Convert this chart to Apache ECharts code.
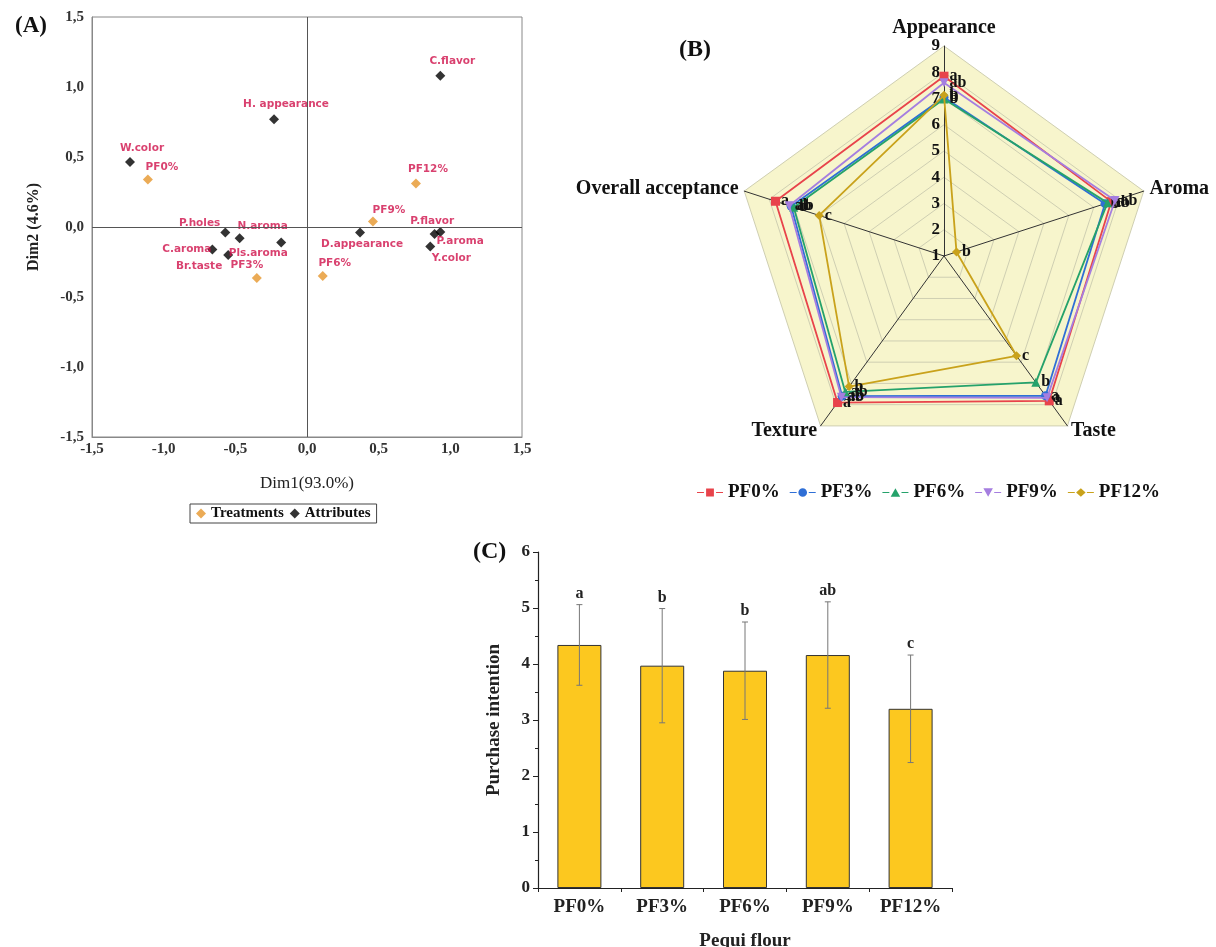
<!DOCTYPE html>
<html><head><meta charset="utf-8">
<script src="https://cdn.jsdelivr.net/npm/echarts@6/dist/echarts.min.js"></script>
<style>html,body{margin:0;padding:0;background:#fff}#c{width:1216px;height:947px}</style>
</head><body><div id="c"></div>
<script>
// ---------- Panel A data ----------
const treatNames = ['PF0%', 'PF3%', 'PF6%', 'PF9%', 'PF12%'];
const treatDim1 = [-1.11, -0.35, 0.11, 0.46, 0.76];
const treatDim2 = [0.34, -0.365, -0.35, 0.04, 0.31];
const attrNames = ['C.flavor', 'H. appearance', 'W.color', 'D.appearance', 'P.flavor', 'P.aroma', 'Y.color', 'P.holes', 'N.aroma', 'Pls.aroma', 'C.aroma', 'Br.taste'];
const attrDim1 = [0.93, -0.23, -1.235, 0.37, 0.93, 0.89, 0.86, -0.57, -0.47, -0.18, -0.66, -0.55];
const attrDim2 = [1.08, 0.77, 0.465, -0.04, -0.035, -0.05, -0.14, -0.04, -0.08, -0.11, -0.16, -0.2];

// ---------- Panel B data ----------
const radarAxes = ['Appearance', 'Overall acceptance', 'Texture', 'Taste', 'Aroma'];
const radarNames = ['PF0%', 'PF3%', 'PF6%', 'PF9%', 'PF12%'];
const radarPF0 = [7.85, 7.75, 7.9, 7.82, 7.7];
const radarPF3 = [7.05, 7.12, 7.6, 7.58, 7.45];
const radarPF6 = [6.98, 7.02, 7.4, 6.95, 7.55];
const radarPF9 = [7.6, 7.2, 7.65, 7.68, 7.85];
const radarPF12 = [7.12, 6.0, 7.15, 5.7, 1.5];
const radarLetPF0 = ['a', 'a', 'a', 'a', 'a'];
const radarLetPF3 = ['b', 'ab', 'ab', 'a', 'b'];
const radarLetPF6 = ['b', 'b', 'ab', 'b', 'ab'];
const radarLetPF9 = ['ab', 'ab', 'ab', 'a', 'ab'];
const radarLetPF12 = ['b', 'c', 'b', 'c', 'b'];

// ---------- Panel C data ----------
const barCats = ['PF0%', 'PF3%', 'PF6%', 'PF9%', 'PF12%'];
const barMean = [4.34, 3.97, 3.88, 4.16, 3.2];
const barSD = [0.72, 1.02, 0.87, 0.95, 0.96];
const barLetters = ['a', 'b', 'b', 'ab', 'c'];

// ---------- styles ----------
const SERIF = '"Liberation Serif","Times New Roman",serif';
const LBL = {color: '#d0124b', fontFamily: '"DejaVu Sans",Verdana,sans-serif', fontWeight: 'bold', fontSize: 10.5};
const labelPlace = {
  'PF0%': ['top', [14, 2]], 'PF3%': ['top', [-10, 2]], 'PF6%': ['top', [12, 2]], 'PF9%': ['top', [16, 3]], 'PF12%': ['top', [12, 0]],
  'C.flavor': ['top', [12, 0]], 'H. appearance': ['top', [12, 0]], 'W.color': ['top', [12, 1]],
  'D.appearance': ['bottom', [2, -3]], 'P.flavor': ['top', [-8, 4]], 'P.aroma': ['right', [-7, 7]],
  'Y.color': ['bottom', [21, -3]], 'P.holes': ['left', [4, -9]], 'N.aroma': ['top', [23, 3]],
  'Pls.aroma': ['bottom', [-23, -4]], 'C.aroma': ['left', [8, 0]], 'Br.taste': ['bottom', [-29, -3]]
};
function pts(names, xs, ys) {
  return names.map((n, i) => ({name: n, value: [xs[i], ys[i]],
    label: {show: true, formatter: n, position: labelPlace[n][0], offset: labelPlace[n][1], distance: 4, ...LBL}}));
}
const fmtComma = v => (Math.abs(v) < 1e-9 ? 0 : v).toFixed(1).replace('.', ',');

const radarColors = ['#e8434b', '#2f6fd6', '#25a26b', '#a57ee0', '#c9a21b'];
const radarSymbols = ['rect', 'circle', 'triangle', 'path://M0,0 L10,0 L5,9z', 'diamond'];
const legendIcons = [
  'path://M0,4.3h8v1.4h-8z M22,4.3h8v1.4h-8z M10.5,0.5h9v9h-9z',
  'path://M0,4.3h8v1.4h-8z M22,4.3h8v1.4h-8z M10,5a5,5 0 1,0 10,0a5,5 0 1,0 -10,0z',
  'path://M0,4.3h8v1.4h-8z M22,4.3h8v1.4h-8z M15,0L20.5,10L9.5,10z',
  'path://M0,4.3h8v1.4h-8z M22,4.3h8v1.4h-8z M9.5,0L20.5,0L15,10z',
  'path://M0,4.3h8v1.4h-8z M22,4.3h8v1.4h-8z M15,0L20.5,5L15,10L9.5,5z'
];
const radarVals = [radarPF0, radarPF3, radarPF6, radarPF9, radarPF12];
const radarLets = [radarLetPF0, radarLetPF3, radarLetPF6, radarLetPF9, radarLetPF12];

const radarSeries = radarNames.map((n, k) => ({
  type: 'radar', name: n, radarIndex: 0,
  symbol: radarSymbols[k], symbolSize: 9,
  lineStyle: {color: radarColors[k], width: 1.8},
  itemStyle: {color: radarColors[k]},
  label: {show: true, position: 'right', distance: 1, color: '#111', fontFamily: SERIF, fontWeight: 'bold', fontSize: 16,
    formatter: p => { const idx = radarVals[k].indexOf(p.value); return idx >= 0 ? radarLets[k][idx] : ''; }},
  z: 5 + k,
  data: [{name: n, value: radarVals[k]}]
}));

const chart = echarts.init(document.getElementById('c'), null, {width: 1216, height: 947});
chart.setOption({
  backgroundColor: '#fff',
  animation: false,
  title: [
    {text: '(A)', left: 10, top: 10, textStyle: {fontFamily: SERIF, fontWeight: 'bold', fontSize: 23, color: '#111'}},
    {text: '(B)', left: 674, top: 33, textStyle: {fontFamily: SERIF, fontWeight: 'bold', fontSize: 24, color: '#111'}},
    {text: '(C)', left: 468, top: 535, textStyle: {fontFamily: SERIF, fontWeight: 'bold', fontSize: 24, color: '#111'}}
  ],
  legend: [
    {data: ['Treatments', 'Attributes'], left: 190, top: 504, orient: 'horizontal', selectedMode: false,
      borderColor: '#444', borderWidth: 1, padding: [2, 6], itemGap: 6, itemWidth: 10, itemHeight: 10,
      icon: 'diamond', textStyle: {fontFamily: SERIF, fontWeight: 'bold', fontSize: 15, color: '#111'}},
    {data: radarNames.map((n, k) => ({name: n, icon: legendIcons[k]})), left: 692, top: 478, selectedMode: false,
      itemWidth: 26, itemHeight: 9, itemGap: 10,
      textStyle: {fontFamily: SERIF, fontWeight: 'bold', fontSize: 19, color: '#111'}}
  ],
  grid: [
    {left: 92, top: 17, width: 430, height: 420, show: true, borderColor: '#888', borderWidth: 1, backgroundColor: '#fff', outerBoundsMode: 'none', containLabel: false},
    {left: 538, top: 552, width: 414, height: 336, outerBoundsMode: 'none', containLabel: false}
  ],
  xAxis: [
    {gridIndex: 0, type: 'value', min: -1.5, max: 1.5, interval: 0.5,
      axisLine: {show: true, onZero: false, lineStyle: {color: '#888'}}, axisTick: {show: false}, splitLine: {show: false},
      axisLabel: {formatter: fmtComma, fontFamily: SERIF, fontWeight: 'bold', fontSize: 15, color: '#333', margin: 5},
      name: 'Dim1(93.0%)', nameLocation: 'middle', nameGap: 38,
      nameTextStyle: {fontFamily: SERIF, fontSize: 17, color: '#222'}},
    {gridIndex: 1, type: 'category', data: barCats,
      axisLine: {lineStyle: {color: '#222', width: 1.2}}, axisTick: {show: true, length: 4, lineStyle: {color: '#222'}},
      axisLabel: {fontFamily: SERIF, fontWeight: 'bold', fontSize: 19, color: '#222', margin: 10},
      name: 'Pequi flour', nameLocation: 'middle', nameGap: 44,
      nameTextStyle: {fontFamily: SERIF, fontWeight: 'bold', fontSize: 19, color: '#222'}}
  ],
  yAxis: [
    {gridIndex: 0, type: 'value', min: -1.5, max: 1.5, interval: 0.5,
      axisLine: {show: true, onZero: false, lineStyle: {color: '#888'}}, axisTick: {show: false}, splitLine: {show: false},
      axisLabel: {formatter: fmtComma, fontFamily: SERIF, fontWeight: 'bold', fontSize: 15, color: '#333', margin: 8},
      name: 'Dim2 (4.6%)', nameLocation: 'middle', nameGap: 50,
      nameTextStyle: {fontFamily: SERIF, fontSize: 16, fontWeight: 'bold', color: '#222'}},
    {gridIndex: 1, type: 'value', min: 0, max: 6, interval: 1,
      axisLine: {show: true, lineStyle: {color: '#222', width: 1.2}},
      axisTick: {show: true, length: 5, lineStyle: {color: '#222'}},
      minorTick: {show: true, splitNumber: 2, length: 3, lineStyle: {color: '#222'}},
      splitLine: {show: false},
      axisLabel: {fontFamily: SERIF, fontWeight: 'bold', fontSize: 17, color: '#222', margin: 8},
      name: 'Purchase intention', nameLocation: 'middle', nameGap: 34,
      nameTextStyle: {fontFamily: SERIF, fontWeight: 'bold', fontSize: 19, color: '#222'}}
  ],
  radar: {
    center: [944, 256], radius: 210, startAngle: 90, splitNumber: 8, shape: 'polygon',
    indicator: radarAxes.map((n, i) => i === 0
      ? {name: n, min: 1, max: 9, axisLabel: {show: true}}
      : {name: n, min: 1, max: 9}),
    axisName: {color: '#111', fontFamily: SERIF, fontWeight: 'bold', fontSize: 20},
    nameGap: 6,
    axisLabel: {show: false, color: '#111', fontFamily: SERIF, fontWeight: 'bold', fontSize: 17, margin: 4},
    axisLine: {lineStyle: {color: '#333', width: 1}},
    axisTick: {show: false},
    splitLine: {lineStyle: {color: '#cfcfb2', width: 1}},
    splitArea: {show: true, areaStyle: {color: ['#f7f5cc']}}
  },
  series: [
    {type: 'scatter', name: 'Treatments', xAxisIndex: 0, yAxisIndex: 0, symbol: 'diamond', symbolSize: 10,
      itemStyle: {color: '#e6962c'}, data: pts(treatNames, treatDim1, treatDim2), z: 4,
      markLine: {silent: true, symbol: ['none', 'none'], label: {show: false},
        lineStyle: {color: '#555', width: 1, type: 'solid'}, data: [{xAxis: 0}, {yAxis: 0}]}},
    {type: 'scatter', name: 'Attributes', xAxisIndex: 0, yAxisIndex: 0, symbol: 'diamond', symbolSize: 10,
      itemStyle: {color: '#000'}, data: pts(attrNames, attrDim1, attrDim2), z: 4},
    ...radarSeries,
    {type: 'bar', name: 'Purchase intention', xAxisIndex: 1, yAxisIndex: 1, data: barMean, barWidth: 44,
      itemStyle: {color: '#fcc81f', borderColor: '#333', borderWidth: 1}},
    {type: 'custom', name: 'err', xAxisIndex: 1, yAxisIndex: 1, z: 10,
      encode: {x: 0, y: 1},
      data: barCats.map((c, i) => [i, barMean[i], barSD[i]]),
      renderItem: (params, api) => {
        const i = api.value(0), m = api.value(1), s = api.value(2);
        const t = api.coord([i, m + s]), b = api.coord([i, m - s]);
        const cap = 3, st = {stroke: '#777', lineWidth: 1};
        return {type: 'group', children: [
          {type: 'line', shape: {x1: t[0], y1: t[1], x2: b[0], y2: b[1]}, style: st},
          {type: 'line', shape: {x1: t[0] - cap, y1: t[1], x2: t[0] + cap, y2: t[1]}, style: st},
          {type: 'line', shape: {x1: b[0] - cap, y1: b[1], x2: b[0] + cap, y2: b[1]}, style: st},
          {type: 'text', x: t[0], y: t[1] - 3, style: {text: barLetters[params.dataIndex], align: 'center', verticalAlign: 'bottom',
            font: 'bold 16px ' + SERIF, fill: '#222'}}
        ]};
      }}
  ]
});
</script></body></html>
